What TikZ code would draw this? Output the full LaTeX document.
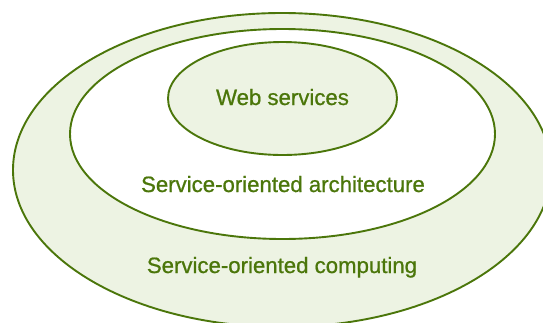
\documentclass[tikz,border=0pt]{standalone}
\usepackage{fontspec}
\setmainfont{Liberation Sans}
\newfontfamily\lblfont[FakeBold=0.8]{Liberation Sans}
\usetikzlibrary{shapes.geometric}
\definecolor{stroke}{HTML}{4B760A}
\definecolor{lightfill}{HTML}{EDF3E3}
\tikzset{
  ring/.style={ellipse, draw=stroke, line width=1.9pt, inner sep=0pt},
  lbl/.style={text=stroke, font=\lblfont\fontsize{22.2}{26}\selectfont, anchor=base, inner sep=0pt}
}
\begin{document}
\begin{tikzpicture}[x=1pt,y=-1pt]
\useasboundingbox (0,0) rectangle (543,322);
\clip (0,0) rectangle (543,322);
\node[ring, fill=lightfill, minimum width=538pt, minimum height=314pt] (soc) at (282,170) {};
\node[ring, fill=white, minimum width=425pt, minimum height=210pt] (soa) at (282.5,134) {};
\node[ring, fill=lightfill, minimum width=229pt, minimum height=113pt] (ws) at (282.5,98.5) {};
\node[lbl] (wst) at (282.5,105) {Web services};
\node[lbl] (soat) at (283,192) {Service-oriented architecture};
\node[lbl] (soct) at (282,273) {Service-oriented computing};
\end{tikzpicture}
\end{document}
